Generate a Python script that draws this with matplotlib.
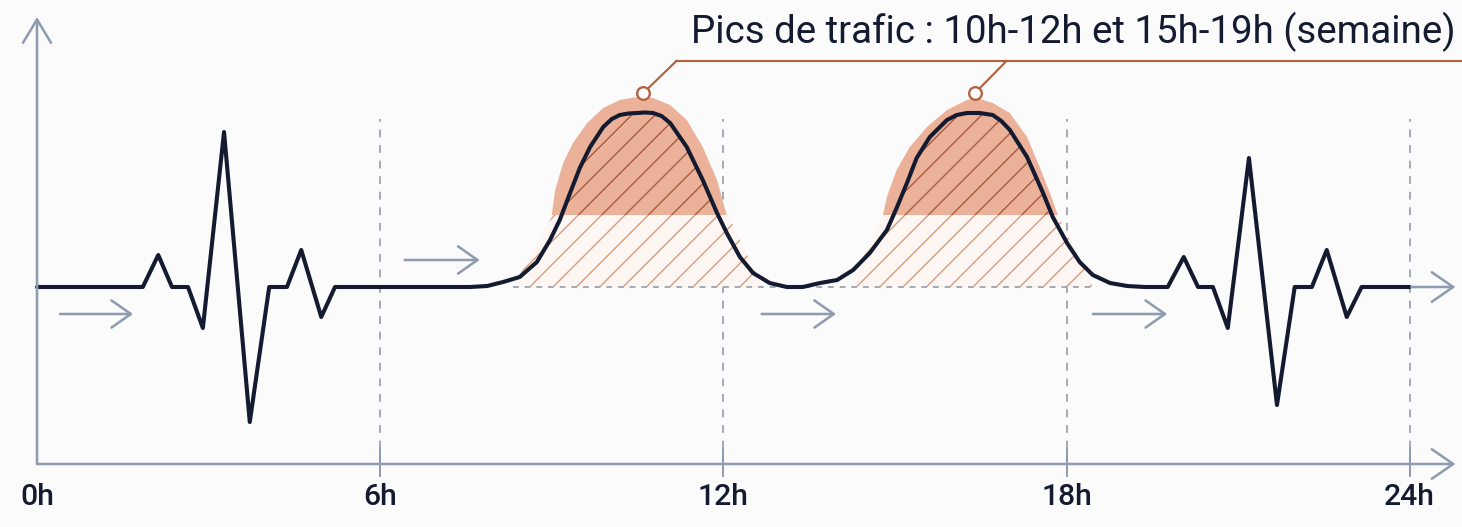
import matplotlib
matplotlib.use('Agg')
import matplotlib.pyplot as plt
import numpy as np

# --- data (hours, traffic level) ---
CURVE_H = [0.0, 1.85, 2.12, 2.36, 2.64, 2.90, 3.27, 3.72, 4.06, 4.37, 4.62, 4.97, 5.21,
           7.57, 7.87, 8.15, 8.44, 8.74, 8.97, 9.14, 9.32, 9.49, 9.67, 9.90, 10.05,
           10.19, 10.34, 10.49, 10.63, 10.77, 10.92, 11.07, 11.36, 11.64, 11.89, 12.06,
           12.29, 12.52, 12.81, 13.11, 13.39, 13.69, 13.99, 14.27, 14.56, 14.86, 15.03,
           15.21, 15.38, 15.61, 15.91, 16.08, 16.26, 16.48, 16.71, 16.86, 17.01, 17.31,
           17.59, 17.76, 18.01, 18.23, 18.46, 18.76, 19.06, 19.37,
           19.77, 20.05, 20.30, 20.56, 20.82, 21.19, 21.68, 21.99, 22.29, 22.55, 22.90,
           23.16, 24.0]
CURVE_V = [17.7, 17.7, 20.9, 17.7, 17.7, 13.6, 33.2, 4.2, 17.7, 17.7, 21.4, 14.7, 17.7,
           17.7, 17.8, 18.2, 18.7, 20.2, 22.4, 24.4, 27.1, 29.6, 31.7, 33.7, 34.5,
           34.9, 35.05, 35.1, 35.15, 35.1, 34.8, 34.1, 31.7, 28.4, 25.1, 23.1,
           20.7, 19.1, 18.1, 17.7, 17.7, 18.1, 18.4, 19.4, 21.1, 23.4, 25.6,
           28.1, 30.6, 32.7, 34.4, 34.9, 35.1, 35.1, 34.9, 34.3, 33.4, 30.7,
           27.1, 24.7, 22.1, 20.2, 18.9, 18.1, 17.8, 17.7,
           17.7, 20.7, 17.7, 17.7, 13.6, 30.6, 5.9, 17.7, 17.7, 21.4, 14.7,
           17.7, 17.7]

BASE = 17.7          # calm traffic level
CAP_BASE = 24.9      # bottom of the highlighted peak zones

CAP1_H = [9.00, 9.06, 9.20, 9.37, 9.62, 9.90, 10.19, 10.49, 10.77, 11.07, 11.36, 11.64, 11.89, 12.00, 12.06]
CAP1_V = [24.9, 27.4, 30.1, 32.1, 34.1, 35.6, 36.4, 36.7, 36.6, 35.9, 34.4, 31.7, 28.4, 26.1, 24.9]
CAP2_H = [14.79, 14.86, 15.03, 15.26, 15.56, 15.91, 16.26, 16.43, 16.71, 17.01, 17.31, 17.53, 17.71, 17.85]
CAP2_V = [24.9, 26.7, 29.4, 31.7, 33.7, 35.4, 36.4, 36.6, 36.1, 35.1, 32.7, 29.7, 27.1, 24.9]

TRAP1_H = [8.32, 9.02, 12.08, 12.69]
TRAP2_H = [14.21, 14.79, 17.85, 18.46]
TRAP_V = [BASE, CAP_BASE, CAP_BASE, BASE]

PEAK_MARK_H = [10.60, 16.40]
PEAK_MARK_V = 37.1
LEADER_TOP_H = [11.18, 16.95]
LEADER_V = 40.3

TICK_H = [0, 6, 12, 18, 24]
TICK_LABELS = ['0h', '6h', '12h', '18h', '24h']
FLOW_ARROWS = [(0.40, 1.68, 15.0), (6.43, 7.74, 20.4), (12.67, 13.97, 15.0), (18.46, 19.76, 15.0)]
TITLE = 'Pics de trafic : 10h-12h et 15h-19h (semaine)'

# --- style ---
DPI = 140
NAVY = '#141b31'
AXIS = '#8e9bb0'
GRID = '#a3aab5'
CAP_COL = '#ebb199'
HATCH_DARK = '#a65a3e'
HATCH_LIGHT = '#d69a80'
TRAP_FILL = '#fdf6f2'
LEADER = '#b3623f'
BG = '#fbfbfb'

plt.rcParams['font.family'] = ['Roboto', 'DejaVu Sans']
plt.rcParams['hatch.linewidth'] = 0.7

fig = plt.figure(figsize=(1462 / DPI, 527 / DPI), dpi=DPI, facecolor=BG)
ax = fig.add_axes([0, 0, 1, 1])
ax.set_facecolor(BG)
ax.set_xlim(-0.647, 24.915)
ax.set_ylim(-6.3, 46.4)
ax.axis('off')

# dashed hour guides + ticks
for h in TICK_H[1:]:
    ax.plot([h, h], [0, 34.5], color=GRID, lw=1.0, ls=(0, (4, 4)), zorder=1)
    ax.plot([h, h], [1.6, -1.2], color=AXIS, lw=1.0, zorder=6)

# axes with open arrowheads
ax.annotate('', xy=(24.80, 0), xytext=(0, 0),
            arrowprops=dict(arrowstyle='->,head_length=0.55,head_width=0.38', color=AXIS,
                            lw=1.3, mutation_scale=20, shrinkA=0, shrinkB=0), zorder=6)
ax.annotate('', xy=(0, 44.7), xytext=(0, 0),
            arrowprops=dict(arrowstyle='->,head_length=0.6,head_width=0.36', color=AXIS,
                            lw=1.3, mutation_scale=20, shrinkA=0, shrinkB=0), zorder=6)

for h, lab in zip(TICK_H, TICK_LABELS):
    ax.text(h, -3.3, lab, ha='center', va='center', fontsize=15.5, color=NAVY, fontweight='medium')

# baseline dashes under the rush-hour zones
ax.plot([TRAP1_H[0], TRAP2_H[-1]], [BASE, BASE], color=GRID, lw=1.0, ls=(0, (3, 3)), zorder=2.5)

# lower hatched trapezoids
for th in (TRAP1_H, TRAP2_H):
    ax.fill(th, TRAP_V, facecolor=TRAP_FILL, edgecolor=HATCH_LIGHT, hatch='//', lw=0, zorder=2)

# orange caps
ax.fill(CAP1_H, CAP1_V, color=CAP_COL, lw=0, zorder=3)
ax.fill(CAP2_H, CAP2_V, color=CAP_COL, lw=0, zorder=3)

# hatch under the curve inside caps
ch = np.array(CURVE_H)
cv = np.array(CURVE_V)
ax.fill_between(ch, CAP_BASE, cv, where=(cv > CAP_BASE) & (ch > 8) & (ch < 19), interpolate=True,
                facecolor='none', edgecolor=HATCH_DARK, hatch='//', lw=0, zorder=4)

# traffic curve
ax.plot(CURVE_H, CURVE_V, color=NAVY, lw=2.1, solid_joinstyle='round', solid_capstyle='round', zorder=5)

# flow arrows
for x0, x1, y in FLOW_ARROWS:
    ax.annotate('', xy=(x1, y), xytext=(x0, y),
                arrowprops=dict(arrowstyle='->,head_length=0.5,head_width=0.35', color=AXIS,
                                lw=1.3, mutation_scale=20, shrinkA=0, shrinkB=0), zorder=6)
ax.annotate('', xy=(24.80, BASE), xytext=(24.03, BASE),
            arrowprops=dict(arrowstyle='->,head_length=0.55,head_width=0.38', color=AXIS,
                            lw=1.3, mutation_scale=20, shrinkA=0, shrinkB=0), zorder=6)

# leader lines + callout
for mh, th in zip(PEAK_MARK_H, LEADER_TOP_H):
    ax.plot([mh, th], [PEAK_MARK_V, LEADER_V], color=LEADER, lw=1.1, zorder=7)
ax.plot([LEADER_TOP_H[0], 24.915], [LEADER_V, LEADER_V], color=LEADER, lw=1.1, zorder=7)
ax.plot(PEAK_MARK_H, [PEAK_MARK_V] * 2, 'o', ms=6.5, mfc='white', mec=LEADER, mew=1.2, zorder=8)

ax.text(24.80, 42.1, TITLE, ha='right', va='baseline', fontsize=19.8, color=NAVY)

fig.savefig('out.png', dpi=DPI, facecolor=BG)
